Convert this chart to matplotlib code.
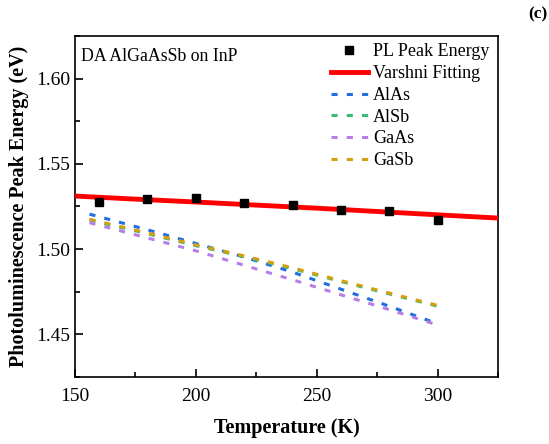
import numpy as np
import matplotlib
matplotlib.use('Agg')
import matplotlib.pyplot as plt
from matplotlib.ticker import MultipleLocator

plt.rcParams['font.family'] = ['Liberation Serif', 'DejaVu Serif']
plt.rcParams['mathtext.fontset'] = 'stix'

# PL peak energy (eV) vs temperature (K)
T_pl = [160, 180, 200, 220, 240, 260, 280, 300]
E_pl = [1.5278, 1.5296, 1.5300, 1.5272, 1.5259, 1.5230, 1.5222, 1.5173]

# Varshni fitting curve
T_fit = [150, 175, 200, 250, 300, 325]
E_fit = [1.5311, 1.5293, 1.5276, 1.5240, 1.5201, 1.5182]

# binary-compound reference curves
T_bin = [156, 180, 200, 220, 240, 260, 280, 300]
E_alas = [1.5205, 1.5113, 1.5033, 1.4953, 1.4865, 1.4765, 1.4665, 1.4562]
E_alsb = [1.5170, 1.5090, 1.5020, 1.4955, 1.4885, 1.4810, 1.4737, 1.4665]
E_gaas = [1.5155, 1.5065, 1.4990, 1.4905, 1.4820, 1.4732, 1.4645, 1.4555]
E_gasb = [1.5175, 1.5095, 1.5025, 1.4960, 1.4890, 1.4815, 1.4742, 1.4670]

fig = plt.figure(figsize=(5.49, 4.44), dpi=100)
ax = fig.add_axes([0.1366, 0.151, 0.7704, 0.768])

dash = (0, (2, 3))
ax.plot(T_pl, E_pl, 's', color='black', markersize=6, label='PL Peak Energy', zorder=5)
ax.plot(T_fit, E_fit, '-', color='#ff0000', lw=3.5, label='Varshni Fitting', zorder=4)
ax.plot(T_bin, E_alas, linestyle=dash, color='#1f6fe0', lw=2.2, label='AlAs')
ax.plot(T_bin, E_alsb, linestyle=dash, color='#3cb878', lw=2.2, label='AlSb')
ax.plot(T_bin, E_gaas, linestyle=dash, color='#b77fe6', lw=2.2, label='GaAs')
ax.plot(T_bin, E_gasb, linestyle=dash, color='#d4a010', lw=2.2, label='GaSb')

ax.set_xlim(150, 325)
ax.set_ylim(1.425, 1.625)
ax.xaxis.set_major_locator(MultipleLocator(50))
ax.xaxis.set_minor_locator(MultipleLocator(25))
ax.yaxis.set_major_locator(MultipleLocator(0.05))
ax.yaxis.set_minor_locator(MultipleLocator(0.025))
ax.yaxis.set_major_formatter(plt.FormatStrFormatter('%.2f'))
ax.tick_params(which='both', direction='in', labelsize=14, width=1.2)
ax.tick_params(axis='x', which='major', pad=8)
ax.tick_params(which='major', length=6)
ax.tick_params(which='minor', length=3.5)
for s in ax.spines.values():
    s.set_linewidth(1.2)

ax.set_xlabel('Temperature (K)', fontsize=14.5, fontweight='bold', labelpad=9)
ax.set_ylabel('Photoluminescence Peak Energy (eV)', fontsize=14.5, fontweight='bold', labelpad=5)

ax.text(0.015, 0.965, 'DA AlGaAsSb on InP', transform=ax.transAxes, fontsize=12.8,
        va='top', ha='left')
fig.text(0.997, 0.985, '(c)', fontsize=12.5, fontweight='bold', ha='right', va='top')

ax.legend(loc='upper right', bbox_to_anchor=(1.01, 1.015), frameon=False, fontsize=13,
          handlelength=2.05, handletextpad=0.3, labelspacing=0.26, borderaxespad=0.3)

fig.savefig('out.png', dpi=100)
